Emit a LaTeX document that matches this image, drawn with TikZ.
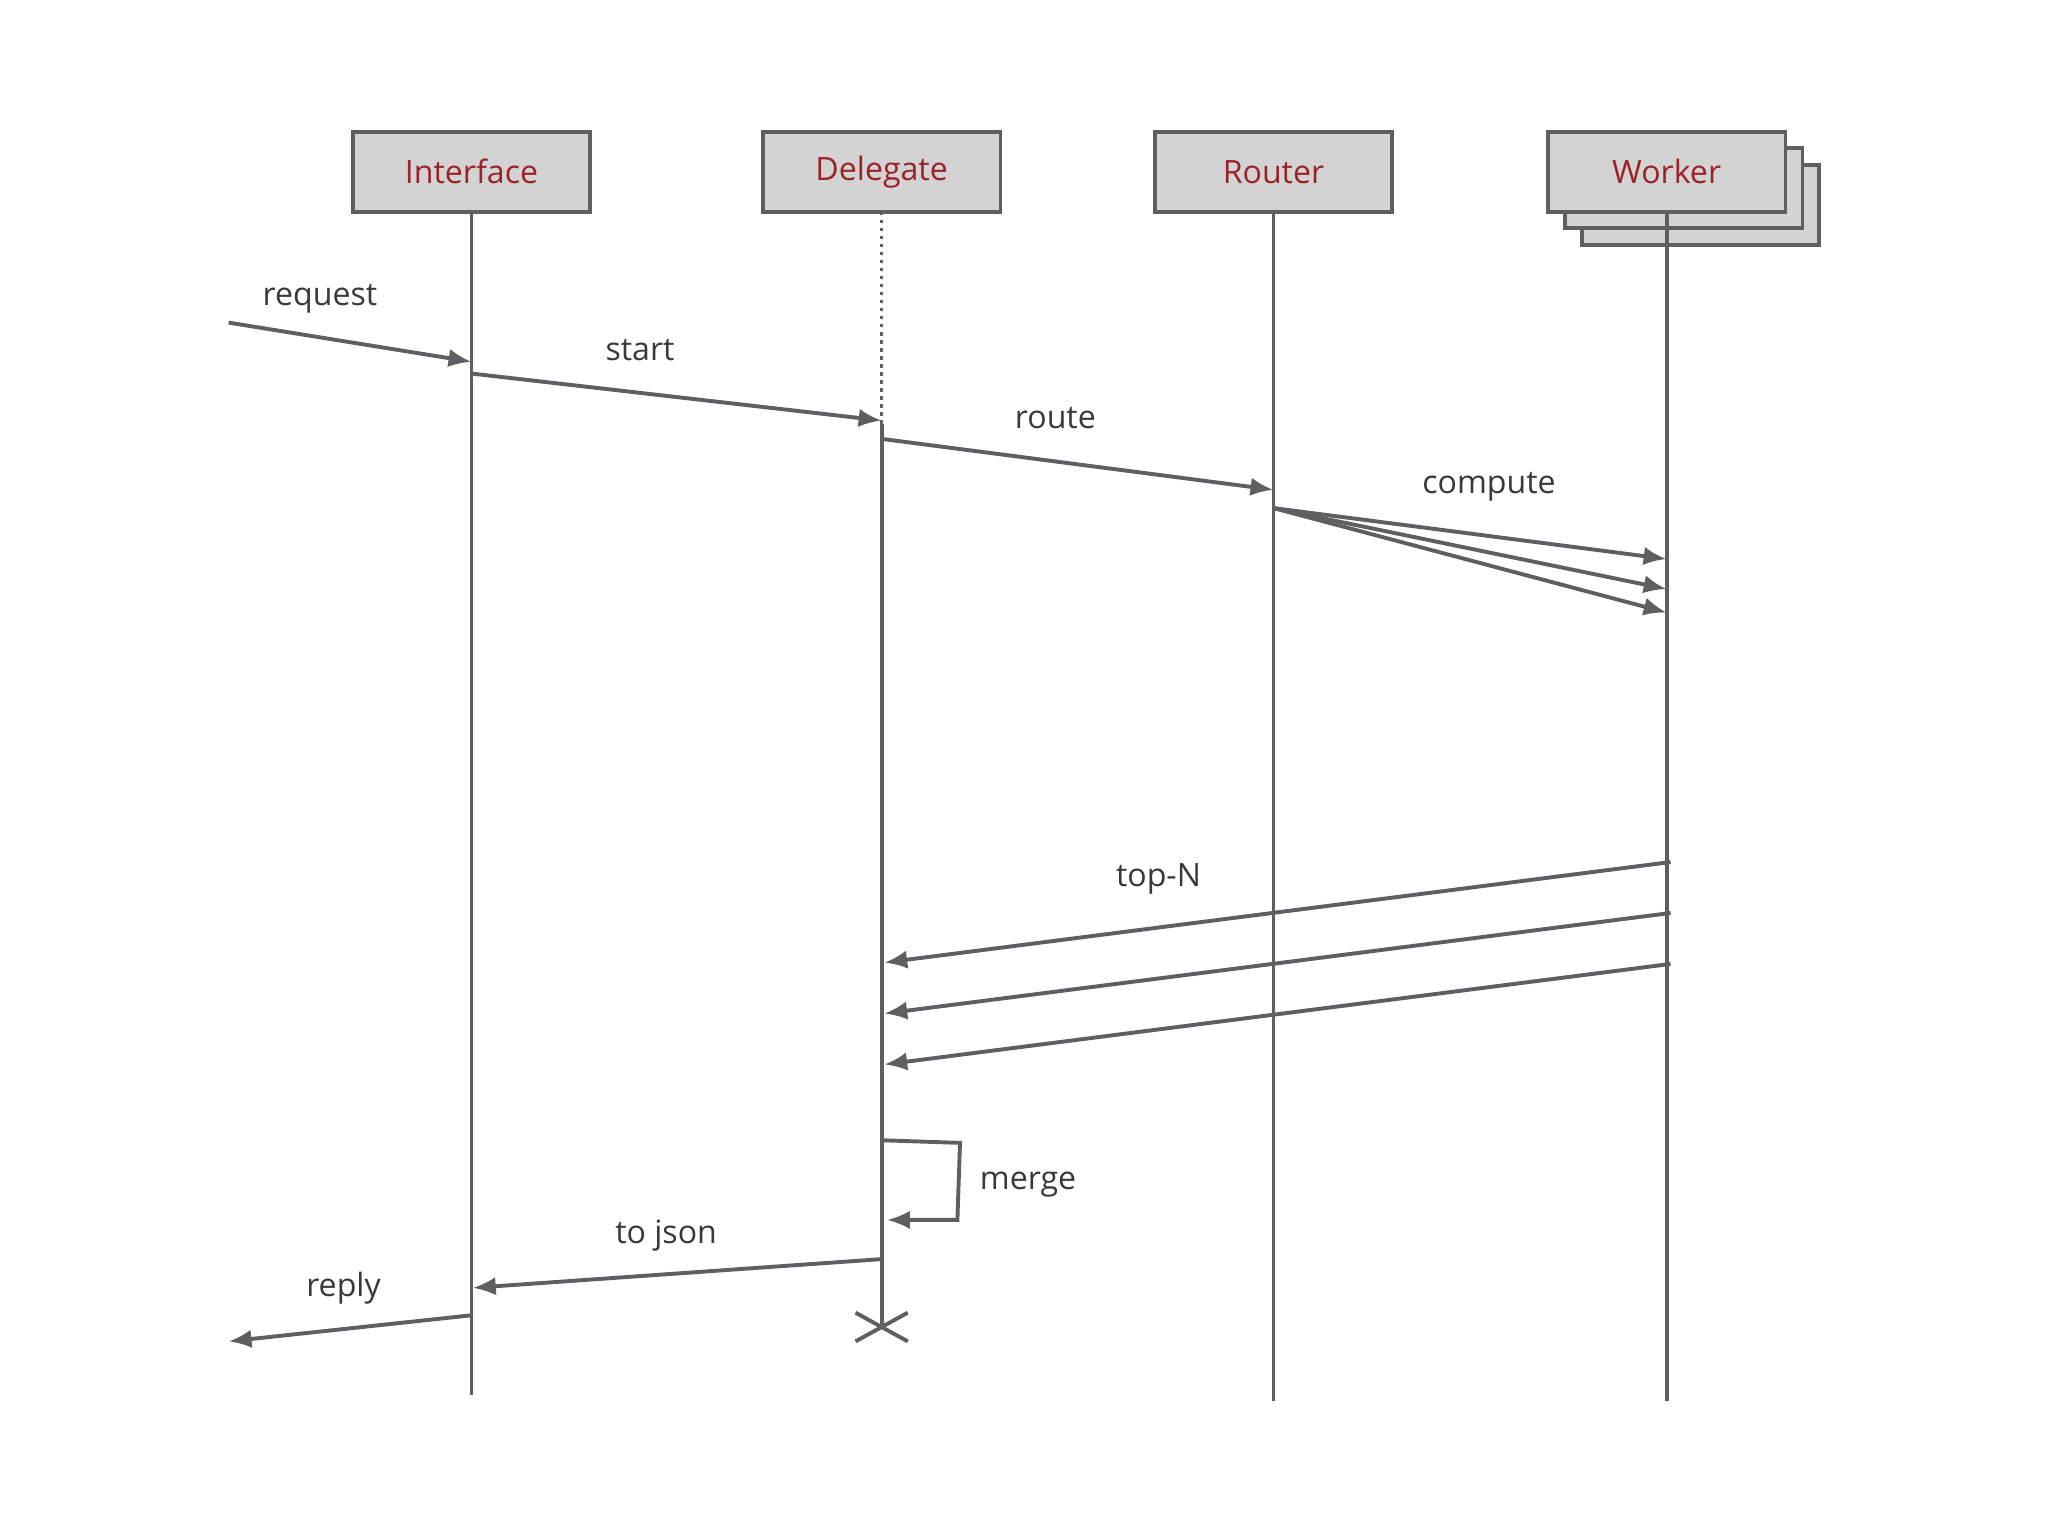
\documentclass[tikz,border=0pt]{standalone}
\usepackage{fontspec}
\setmainfont{Open Sans}
\usetikzlibrary{arrows.meta}
\definecolor{ln}{HTML}{5F5F63}
\definecolor{bx}{HTML}{D3D3D3}
\definecolor{tx}{HTML}{9B2226}
\begin{document}
\begin{tikzpicture}[x=0.02cm,y=-0.02cm,
  box/.style={draw=ln,fill=bx,line width=1.7pt,minimum width=3.64cm,minimum height=1.22cm,inner sep=0pt,text=tx,font=\fontsize{14}{16}\selectfont},
  life/.style={draw=ln,line width=1.7pt},
  msg/.style={draw=ln,line width=1.7pt,-{Latex[length=10pt,width=8pt]}},
  lbl/.style={text=ln!60!black,font=\fontsize{14}{16}\selectfont}]
\useasboundingbox (0,0) rectangle (1568,1176);
% lifelines
\coordinate (i0) at (361,162); \coordinate (i1) at (361,1068);
\coordinate (d0) at (675,162); \coordinate (d1) at (675,325); \coordinate (d2) at (675,1015);
\coordinate (r0) at (975,162); \coordinate (r1) at (975,1073);
\coordinate (w0) at (1276,162); \coordinate (w1) at (1276,1073);
\draw[life] (i0)--(i1);
\draw[life,line width=1.5pt,dotted] (d0)--(d1);
\draw[life] (d1)--(d2);
\draw[life] (r0)--(r1);
% boxes
\node[box] (wk3) at (1302,157) {};
\node[box] (wk2) at (1289,144) {};
\node[box] (int) at (361,131.5) {Interface};
\node[box] (del) at (675,131.5) {Delegate};
\node[box] (rou) at (975,131.5) {Router};
\node[box] (wor) at (1276,131.5) {Worker};
\draw[life] (wor.south)--(w1);
% messages
\coordinate (a0) at (175,247); \coordinate (a1) at (361,277);
\draw[msg] (a0)--(a1); \node[lbl] (lreq) at (245,229) {request};
\coordinate (b0) at (361,286); \coordinate (b1) at (675,322);
\draw[msg] (b0)--(b1); \node[lbl] (lst) at (490,268) {start};
\coordinate (c0) at (675,336); \coordinate (c1) at (975,375);
\draw[msg] (c0)--(c1); \node[lbl] (lro) at (808,320) {route};
\coordinate (e0) at (975,389);
\coordinate (e1) at (1276,428); \coordinate (e2) at (1276,451); \coordinate (e3) at (1276,469);
\draw[msg] (e0)--(e1); \draw[msg] (e0)--(e2); \draw[msg] (e0)--(e3);
\node[lbl] (lco) at (1140,373) {compute};
\coordinate (f0) at (1279,660); \coordinate (f1) at (677,737);
\coordinate (g0) at (1279,699); \coordinate (g1) at (677,776);
\coordinate (h0) at (1279,738); \coordinate (h1) at (677,815);
\draw[msg] (f0)--(f1); \draw[msg] (g0)--(g1); \draw[msg] (h0)--(h1);
\node[lbl] (ltop) at (887,673) {top-N};
\coordinate (m0) at (675,873); \coordinate (m1) at (735,875); \coordinate (m2) at (733,934); \coordinate (m3) at (679,934);
\draw[msg] (m0)--(m1)--(m2)--(m3);
\node[lbl,anchor=west] (lme) at (744,907) {merge};
\coordinate (j0) at (675,964); \coordinate (j1) at (362,986);
\draw[msg] (j0)--(j1); \node[lbl] (ljs) at (510,946) {to json};
\coordinate (k0) at (361,1007); \coordinate (k1) at (175,1027);
\draw[msg] (k0)--(k1); \node[lbl] (lrep) at (263,986) {reply};
% destroy
\coordinate (x1) at (655,1005); \coordinate (x2) at (695,1027);
\coordinate (x3) at (655,1027); \coordinate (x4) at (695,1005);
\draw[life] (x1)--(x2); \draw[life] (x3)--(x4);
\end{tikzpicture}
\end{document}
